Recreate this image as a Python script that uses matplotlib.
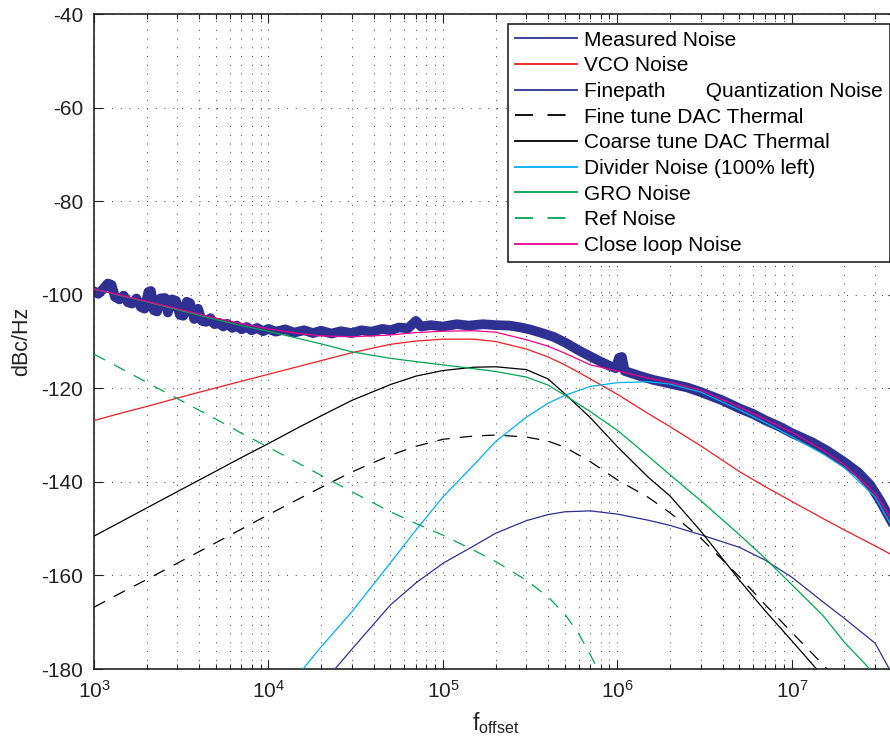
import matplotlib
matplotlib.use("Agg")
import matplotlib.pyplot as plt

plt.rcParams['font.family'] = ['Liberation Sans', 'DejaVu Sans']
plt.rcParams['mathtext.fontset'] = 'custom'
plt.rcParams['mathtext.rm'] = 'Liberation Sans'
plt.rcParams['mathtext.it'] = 'Liberation Sans:italic'
plt.rcParams['axes.unicode_minus'] = False

# Frequency grid (Hz) shared by most model curves
freq = [1e3, 1.5e3, 2e3, 3e3, 5e3, 7e3, 1e4, 1.5e4, 2e4, 3e4, 5e4, 7e4,
        1e5, 1.5e5, 2e5, 3e5, 4e5, 5e5, 7e5, 1e6, 1.5e6, 2e6, 3e6, 5e6,
        7e6, 1e7, 1.5e7, 2e7, 3e7, 4e7]

vco = [-126.9, -125.1, -123.9, -122.1, -119.9, -118.5, -117.0, -115.3, -114.1,
       -112.4, -110.6, -109.9, -109.5, -109.5, -110.0, -111.6, -113.3, -115.0,
       -118.0, -121.3, -125.4, -128.2, -132.3, -137.8, -141.0, -144.2, -147.8,
       -150.3, -153.7, -156.2]

close_loop = [-98.8, -100.3, -101.4, -103.0, -105.0, -106.2, -107.3, -108.3,
              -108.8, -109.0, -108.6, -108.1, -107.8, -107.7, -108.0, -109.6,
              -111.0, -112.5, -115.0, -116.3, -117.8, -118.7, -120.4, -124.0,
              -126.6, -129.4, -133.2, -136.4, -142.4, -150.0]

gro = [-98.8, -100.4, -101.5, -103.2, -105.3, -106.6, -107.8, -109.4, -110.5,
       -112.2, -113.6, -114.3, -115.0, -115.8, -116.4, -117.6, -119.3, -121.5,
       -125.0, -129.0, -134.5, -138.5, -144.0, -151.3, -156.3, -162.0, -168.5,
       -174.3, -181.2, -186.0]

coarse_dac = [-151.6, -148.1, -145.6, -142.1, -137.7, -134.8, -131.8, -128.3,
              -125.9, -122.6, -119.2, -117.4, -116.2, -115.5, -115.4, -116.0,
              -118.0, -121.2, -126.3, -132.5, -139.0, -143.0, -150.5, -161.0,
              -167.5, -174.0, -181.5, -187.0, -195.0, -200.0]

fine_dac = [-166.8, -163.3, -160.9, -157.4, -153.0, -150.1, -147.0, -143.6,
            -141.2, -137.9, -134.3, -132.4, -130.9, -130.2, -130.0, -130.4,
            -131.3, -132.6, -135.7, -139.6, -143.3, -146.6, -152.0, -160.3,
            -166.2, -172.2, -179.0, -184.0, -191.0, -196.0]

div_freq = [1.5e4, 2e4, 3e4, 5e4, 7e4, 1e5, 1.5e5, 2e5, 3e5, 4e5, 5e5, 7e5,
            1e6, 1.5e6, 2e6, 3e6, 5e6, 7e6, 1e7, 1.5e7, 2e7, 3e7, 4e7]
divider = [-181.0, -175.3, -167.8, -157.3, -150.3, -143.2, -136.4, -131.4,
           -126.2, -123.2, -121.5, -119.6, -118.8, -118.6, -119.1, -120.8,
           -124.6, -127.3, -130.4, -134.0, -137.0, -143.2, -151.5]

fp_freq = [2e4, 3e4, 5e4, 7e4, 1e5, 1.5e5, 2e5, 3e5, 4e5, 5e5, 7e5, 1e6,
           1.5e6, 2e6, 3e6, 5e6, 7e6, 1e7, 1.5e7, 2e7, 3e7, 4e7]
finepath = [-183.5, -175.8, -166.3, -161.6, -157.4, -153.7, -151.0, -148.3,
            -147.0, -146.4, -146.2, -146.9, -148.2, -149.3, -151.3, -154.0,
            -156.7, -160.4, -165.6, -169.2, -174.5, -183.0]

ref_freq = [1e3, 1.5e3, 2e3, 3e3, 5e3, 7e3, 1e4, 1.5e4, 2e4, 3e4, 5e4, 7e4,
            1e5, 1.5e5, 2e5, 3e5, 4e5, 5e5, 6e5, 7e5, 1e6]
ref = [-112.7, -116.2, -118.7, -122.2, -126.6, -129.6, -132.6, -136.1, -138.6,
       -142.1, -146.4, -148.9, -151.4, -154.6, -157.0, -161.0, -164.6, -168.3,
       -172.5, -177.0, -188.0]

# Measured phase noise trace
meas_freq = [1000, 1060, 1120, 1200, 1260, 1320, 1400, 1480, 1560, 1650, 1750,
             1850, 1950, 2050, 2120, 2200, 2300, 2400, 2550, 2650, 2800, 2950,
             3100, 3250, 3400, 3550, 3750, 3950, 4150, 4400, 4650, 4900, 5200,
             5500, 5800, 6200, 6600, 7000, 7500, 8000, 8600, 9300, 1e4,
             1.1e4, 1.25e4, 1.4e4, 1.6e4, 1.8e4, 2e4, 2.3e4, 2.6e4, 3e4,
             3.4e4, 3.9e4, 4.5e4, 5e4, 5.6e4, 6.3e4, 7e4, 7.5e4, 8.5e4, 1e5,
             1.2e5, 1.4e5, 1.7e5, 2e5, 2.4e5, 2.8e5, 3.2e5, 3.7e5, 4.3e5, 5e5,
             6e5, 7e5, 8e5, 9e5, 9.8e5, 1.02e6, 1.06e6, 1.1e6, 1.3e6, 1.6e6,
             2e6, 2.5e6, 3e6, 4e6, 5e6, 6e6, 7e6, 8.5e6, 1e7, 1.3e7, 1.6e7,
             2e7, 2.4e7, 2.8e7, 3.2e7, 3.6e7, 4e7]
meas_db = [-99.3, -99.8, -98.9, -97.6, -97.9, -100.5, -101.0, -100.2, -101.6,
           -101.9, -100.8, -102.6, -103.0, -99.4, -99.2, -103.3, -103.6, -100.8,
           -100.7, -103.8, -101.0, -101.3, -104.3, -104.5, -101.5, -101.8,
           -105.2, -103.0, -105.6, -105.8, -105.0, -106.3, -106.0, -106.8,
           -106.2, -107.1, -106.6, -107.4, -106.9, -107.6, -107.1, -107.8,
           -107.3, -107.9, -107.4, -108.1, -107.6, -108.2, -107.7, -108.3,
           -107.8, -108.2, -107.6, -107.9, -107.3, -107.6, -107.0, -107.2,
           -105.6, -106.8, -106.5, -106.8, -106.3, -106.6, -106.3, -106.5,
           -106.6, -107.0, -107.5, -108.2, -109.0, -110.2, -111.9, -113.2,
           -114.3, -115.2, -115.7, -113.5, -113.3, -116.3, -117.2, -118.2,
           -119.0, -119.8, -120.8, -122.6, -124.3, -125.5, -126.8, -128.2,
           -129.6, -131.5, -133.4, -135.8, -138.0, -140.6, -144.0, -147.5,
           -150.5]

xticks = [1e3, 1e4, 1e5, 1e6, 1e7]
yticks = [-180, -160, -140, -120, -100, -80, -60, -40]

navy = '#2E3192'
fig = plt.figure(figsize=(8.9, 7.4), dpi=100)
ax = fig.add_axes([94 / 890, 71 / 740, 803 / 890, 655 / 740])

dash = (0, (10, 8))
ax.plot(meas_freq, meas_db, color=navy, lw=7, solid_joinstyle='round',
        label='Measured Noise', zorder=2)
ax.plot(freq, vco, color='#ED1C24', lw=0.9, label='VCO Noise', zorder=3)
ax.plot(fp_freq, finepath, color=navy, lw=0.9,
        label='Finepath       Quantization Noise', zorder=3)
ax.plot(freq, fine_dac, color='k', lw=0.9, ls=dash,
        label='Fine tune DAC Thermal', zorder=3)
ax.plot(freq, coarse_dac, color='k', lw=0.9,
        label='Coarse tune DAC Thermal', zorder=3)
ax.plot(div_freq, divider, color='#00AEEF', lw=0.9,
        label='Divider Noise (100% left)', zorder=3)
ax.plot(freq, gro, color='#00A651', lw=0.9, label='GRO Noise', zorder=3)
ax.plot(ref_freq, ref, color='#00A651', lw=0.9, ls=dash,
        label='Ref Noise', zorder=3)
ax.plot(freq, close_loop, color='#EC008C', lw=0.9,
        label='Close loop Noise', zorder=3)

ax.set_xscale('log')
ax.set_xlim(1e3, 4e7)
ax.set_ylim(-180, -40)
ax.set_xticks(xticks)
ax.set_yticks(yticks)

grid_style = dict(color='#444444', lw=0.7, ls=(0, (1, 8)))
ax.grid(True, which='major', axis='both', **grid_style)
ax.grid(True, which='minor', axis='x', **grid_style)

ax.tick_params(which='both', direction='in', top=True, right=True,
               labelsize=15, colors='#222222', width=0.8)
ax.tick_params(which='major', length=6.5, pad=8)
ax.tick_params(which='minor', length=3.5)
ax.tick_params(axis='x', which='major', pad=8)
for s in ax.spines.values():
    s.set_linewidth(1.2)
    s.set_color('#222222')

ax.set_xlabel(r'$\mathregular{f_{offset}}$', fontsize=16.5, color='#222222',
              labelpad=6)
ax.set_ylabel('dBc/Hz', fontsize=15.5, color='#222222', labelpad=6)

leg = ax.legend(loc='upper left', bbox_to_anchor=(508 / 890, 1 - 24 / 740),
                bbox_transform=fig.transFigure, borderaxespad=0,
                fontsize=15, frameon=True, fancybox=False, framealpha=1,
                edgecolor='#222222', handlelength=3.0, handletextpad=0.35,
                labelspacing=0.32, borderpad=0.32)
leg.get_frame().set_linewidth(1.2)
for h in leg.get_lines():
    h.set_linewidth(1.3)

fig.savefig('out.png', dpi=100)
